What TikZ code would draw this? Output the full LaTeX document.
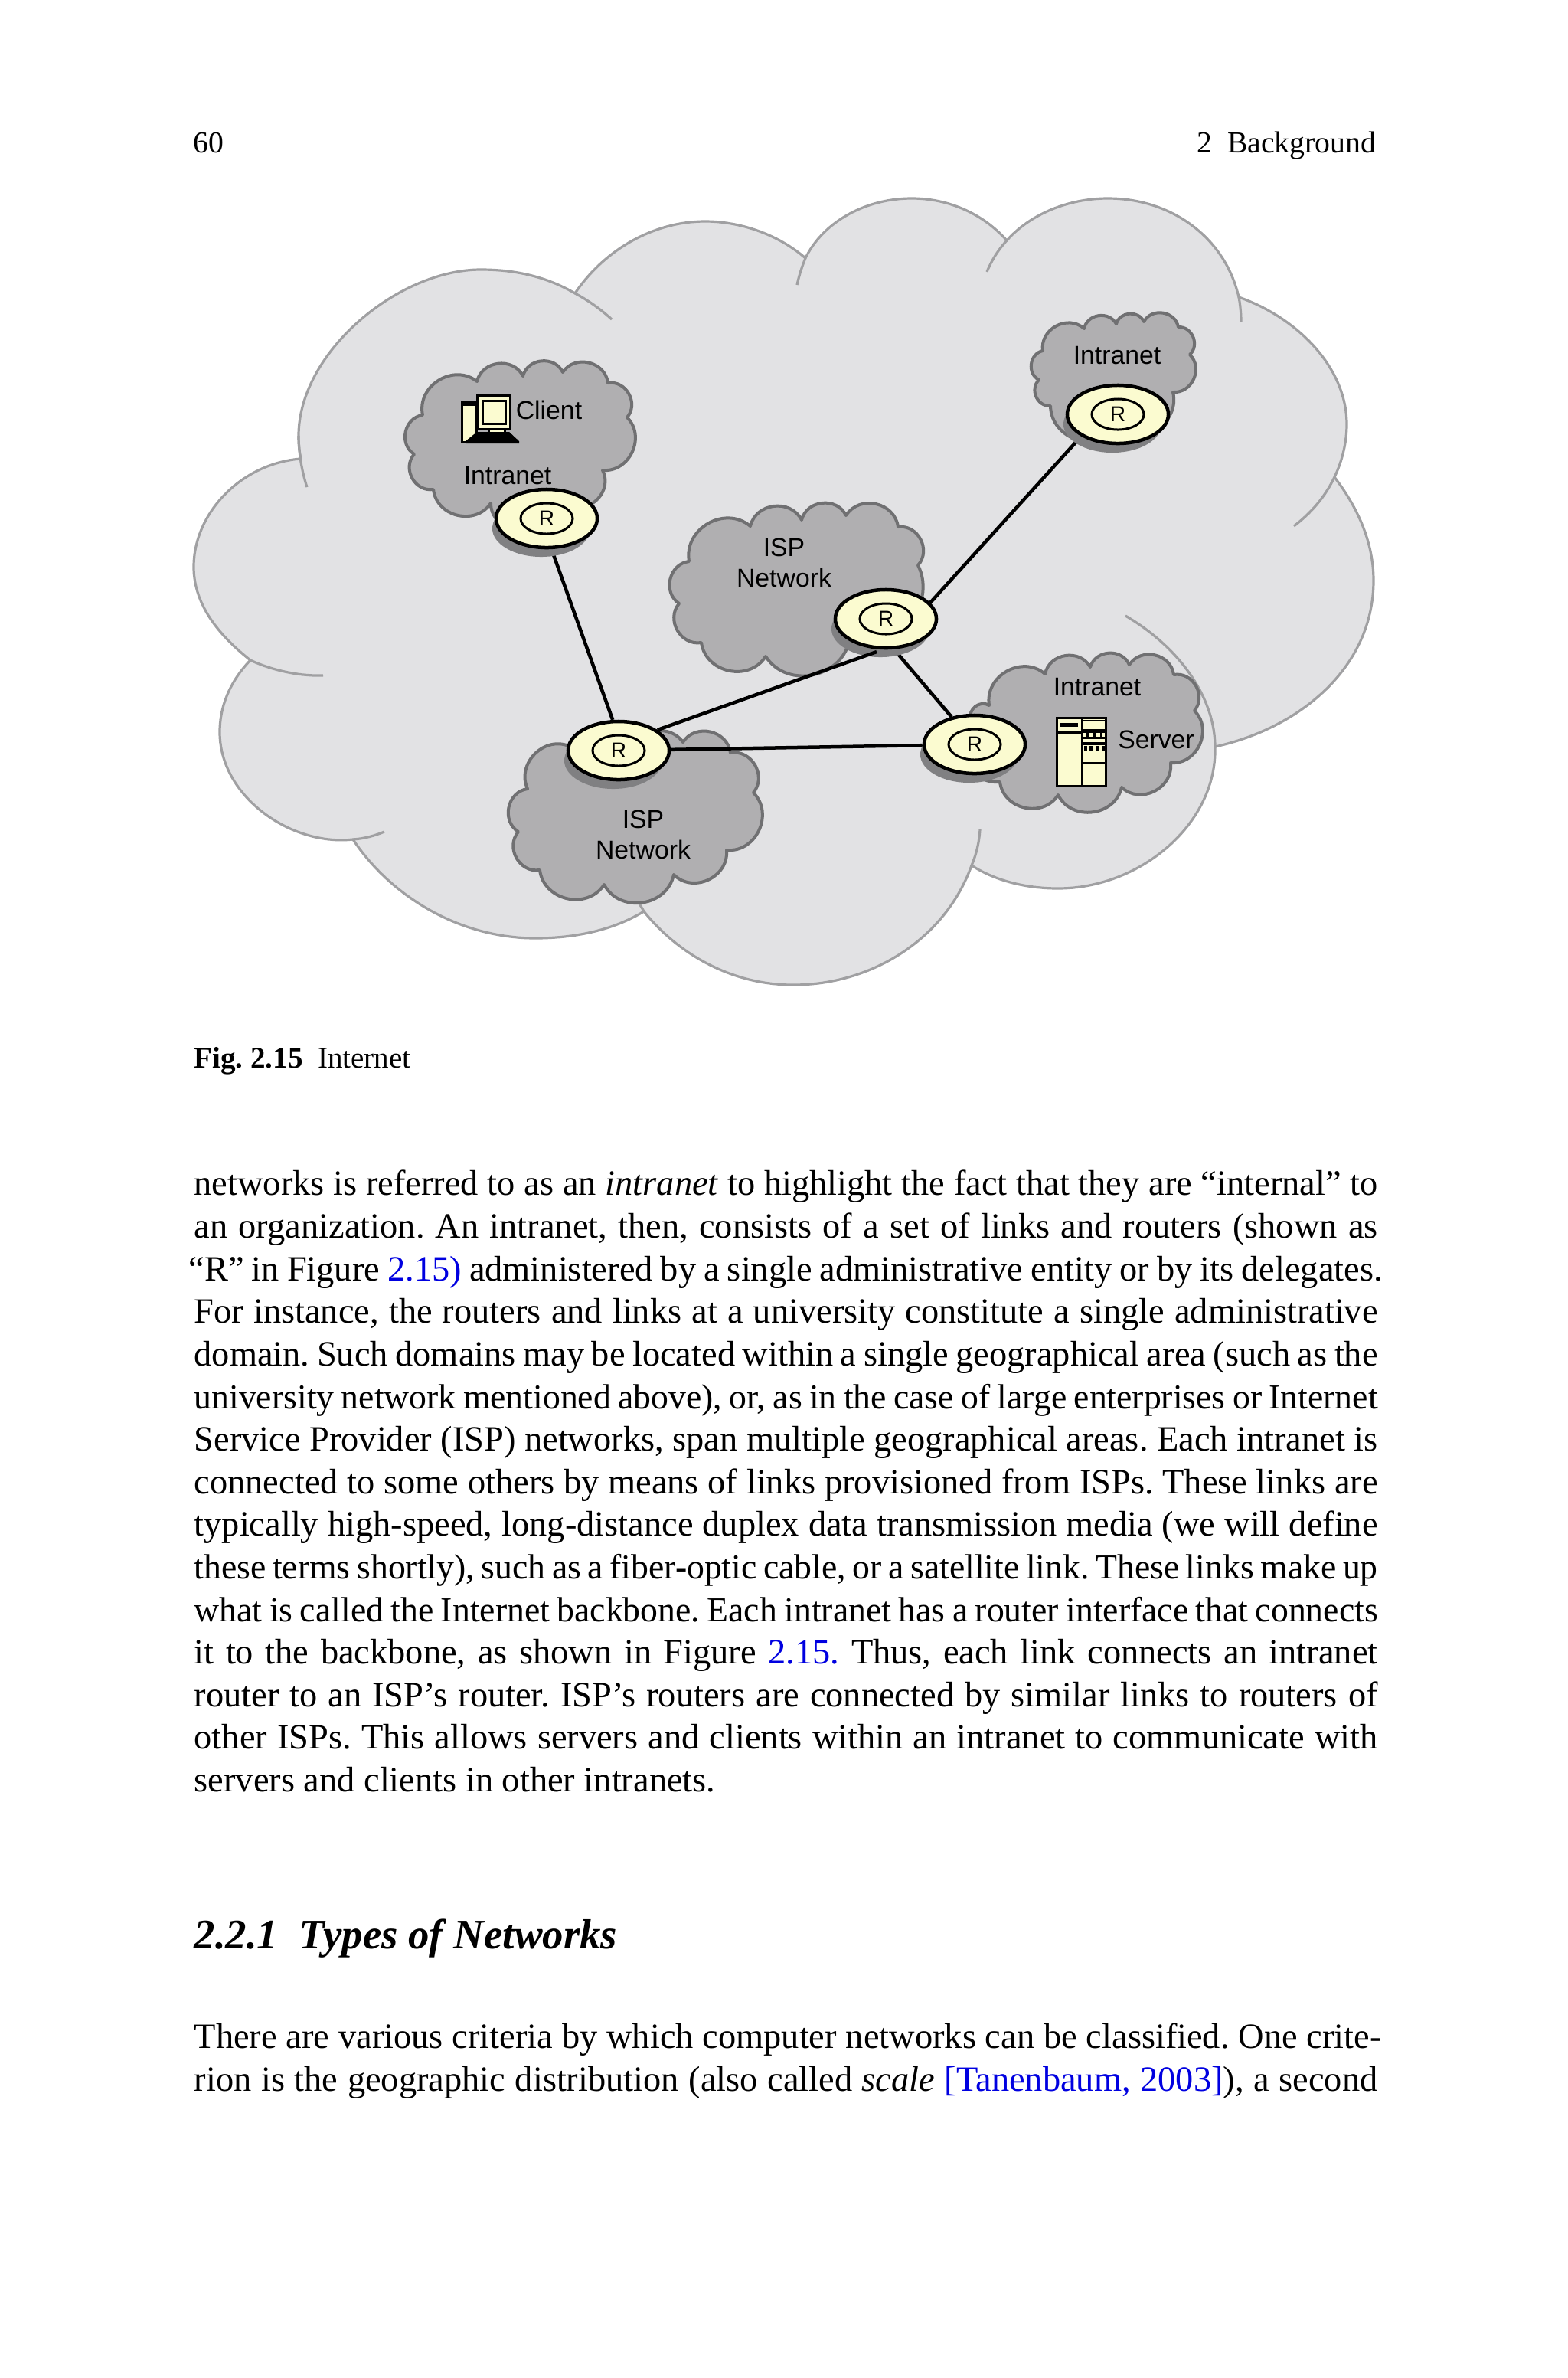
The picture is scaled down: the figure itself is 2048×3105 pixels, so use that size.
\documentclass[tikz,border=0pt]{standalone}
\usepackage{fontspec}
\setmainfont{Liberation Serif}
\newfontfamily\lblfont{Liberation Sans}
\usepackage{tikz}
\usetikzlibrary{
  positioning,
  shapes.geometric,
  backgrounds
}
\definecolor{outerfill}{HTML}{E2E2E4}
\definecolor{outerline}{HTML}{A0A0A2}
\definecolor{innerfill}{HTML}{B0AFB1}
\definecolor{innerline}{HTML}{707072}
\definecolor{cream}{HTML}{FBFBD0}
\definecolor{shadowgray}{HTML}{808082}
\definecolor{linkblue}{HTML}{0000E0}
\newcommand{\jl}[2][15.45cm]{\hbox to #1{\spaceskip=0.17em plus 0.3em\relax #2}}
\newcommand{\lk}[1]{\textcolor{linkblue}{#1}}
\frenchspacing

\begin{document}
\begin{tikzpicture}[
    x=0.01cm, y=-0.01cm,
    ln/.style={anchor=base west, inner sep=0pt, font=\fontsize{13.2pt}{16pt}\selectfont},
    lns/.style={ln, font=\fontsize{13pt}{16pt}\selectfont},
    lbl/.style={inner sep=0pt, align=center, font=\lblfont\fontsize{9.6pt}{11.3pt}\selectfont},
    ol/.style={draw=outerline, line width=0.032cm, line join=round},
    il/.style={draw=innerline, fill=innerfill, line width=0.04cm, line join=round},
    ed/.style={black, line width=0.045cm},
    rs/.style={ellipse, fill=shadowgray, inner sep=0pt, minimum width=1.28cm, minimum height=0.74cm},
    rt/.style={ellipse, draw, fill=cream, line width=0.045cm, inner sep=0pt, minimum width=1.32cm, minimum height=0.76cm},
    ri/.style={ellipse, draw, line width=0.03cm, inner sep=0pt, minimum width=0.68cm, minimum height=0.4cm, font=\lblfont\fontsize{8pt}{8pt}\selectfont},
    ic/.style={draw, fill=cream, line width=0.03cm},
    sc/.style={bend left=70, looseness=1.2}
  ]
    \useasboundingbox (0,0) rectangle (2048,3105);
    % ---- routers ----
    \foreach \n/\x/\y in {R1/714/677, R2/1460/541, R3/1157/808, R4/1273/972, R5/808/980} {
      \node[rs] (\n s) at (\x-7,\y+13) {};
      \node[rt] (\n) at (\x,\y) {};
      \node[ri] (\n i) at (\x,\y) {R};
    }
    \coordinate (R3f) at (1145,851);
    \begin{scope}[on background layer]
      % ---- big cloud ----
      \path[ol, fill=outerfill] (390,569)
        .. controls (390,460) and (520,352) .. (628,352)
        .. controls (675,352) and (715,362) .. (751,383)
        .. controls (790,325) and (855,289) .. (921,289)
        .. controls (965,289) and (1015,305) .. (1052,337)
        .. controls (1075,290) and (1130,259) .. (1191,259)
        .. controls (1240,259) and (1285,280) .. (1315,314)
        .. controls (1345,280) and (1395,259) .. (1447,259)
        .. controls (1530,259) and (1600,310) .. (1618,388)
        .. controls (1695,415) and (1759,480) .. (1759,554)
        .. controls (1759,578) and (1753,602) .. (1743,623)
        .. controls (1775,665) and (1794,710) .. (1794,758)
        .. controls (1794,870) and (1700,950) .. (1587,975)
        .. controls (1590,1075) and (1490,1160) .. (1382,1160)
        .. controls (1340,1160) and (1300,1150) .. (1269,1130)
        .. controls (1235,1225) and (1140,1286) .. (1036,1286)
        .. controls (955,1286) and (885,1245) .. (841,1190)
        .. controls (800,1215) and (750,1225) .. (699,1225)
        .. controls (600,1225) and (510,1170) .. (461,1096)
        .. controls (380,1105) and (287,1040) .. (287,956)
        .. controls (287,920) and (302,888) .. (327,862)
        .. controls (280,825) and (253,785) .. (253,740)
        .. controls (253,670) and (315,605) .. (393,599)
        .. controls (391,590) and (390,580) .. (390,569)
        -- cycle;
      % ---- lobe ends inside the cloud ----
      \draw[ol] (390,569) .. controls (390,590) and (394,615) .. (401,636);
      \draw[ol] (751,383) .. controls (768,392) and (785,404) .. (799,417);
      \draw[ol] (1041,372) .. controls (1044,358) and (1048,347) .. (1052,337);
      \draw[ol] (1289,355) .. controls (1295,340) and (1304,326) .. (1315,314);
      \draw[ol] (1618,388) .. controls (1620,398) and (1621,410) .. (1621,420);
      \draw[ol] (1743,623) .. controls (1730,650) and (1712,670) .. (1690,687);
      \draw[ol] (1470,804) .. controls (1545,848) and (1587,915) .. (1587,975);
      \draw[ol] (1280,1083) .. controls (1279,1100) and (1275,1116) .. (1269,1130);
      \draw[ol] (834,1178) -- (841,1190);
      \draw[ol] (461,1096) .. controls (476,1095) and (490,1091) .. (502,1086);
      \draw[ol] (327,862) .. controls (355,875) and (390,883) .. (422,882);
      % ---- small clouds ----
      \draw[il] (552,542) \foreach \x/\y in {623/498,683/491,735/486,794/500,819/545,787/614,745/660,700/680,641/657,566/639,541/593,552/542} { to[sc] (\x,\y) } -- cycle;
      \draw[il] (1362,458) \foreach \x/\y in {1416/429,1458/423,1494/420,1539/427,1554/463,1532/512,1460/560,1372/530,1357/496,1362/458} { to[sc] (\x,\y) } -- cycle;
      \draw[il] (900,733) \foreach \x/\y in {980/687,1047/679,1105/673,1173/688,1199/738,1110/832,1000/857,916/839,887/788,900/733} { to[sc] (\x,\y) } -- cycle;
      \draw[il] (1292,921) \foreach \x/\y in {1365/880,1424/871,1475/868,1533/881,1560/928,1529/996,1465/1028,1382/1038,1306/1021,1268/940,1292/921} { to[sc] (\x,\y) } -- cycle;
      \draw[il] (689,1030) \foreach \x/\y in {745/975,820/990,892/969,954/983,984/1035,949/1110,880/1142,789/1155,705/1136,677/1086,689/1030} { to[sc] (\x,\y) } -- cycle;
      % ---- links ----
      \draw[ed] (R1.-81) -- (R5.101);
      \draw[ed] (R2.211) -- (R3.20);
      \draw[ed] (R3.-75) -- (R4.130);
      \draw[ed] (R5) -- (R4);
    \end{scope}
    \draw[ed] (R5.28) -- (R3f);
    % ---- client icon ----
    \draw[ic] (603,524) rectangle (622,577);
    \fill[black] (603,524) rectangle (622,530);
    \fill[black] (623,564) -- (665,564) -- (678,576) -- (678,579) -- (608,579) -- (608,576) -- cycle;
    \draw[ic] (638,560) rectangle (659,565);
    \draw[ic] (623,516) rectangle (666,560);
    \draw[ic] (630,523) rectangle (660,553);
    % ---- server icon ----
    \draw[ic] (1380,937) rectangle (1444,1026);
    \draw[black, line width=0.03cm] (1413,937) -- (1413,1026);
    \draw[black, line width=0.03cm] (1380,956) -- (1413,956);
    \fill[black] (1385,944) rectangle (1408,949);
    \draw[black, line width=0.02cm] (1413,941) -- (1444,941);
    \fill[black] (1413,952) rectangle (1444,957);
    \foreach \x in {1419,1428,1437} \fill[black] (\x,957) rectangle +(3,6);
    \fill[black] (1413,962) rectangle (1444,965);
    \fill[black] (1413,969) rectangle (1444,973);
    \foreach \x in {1416,1423,1431,1439} \fill[black] (\x,974) rectangle +(4,6);
    \draw[black, line width=0.02cm] (1413,996) -- (1444,996);
    % ---- labels ----
    \node[lbl] (lc) at (717,535) {Client};
    \node[lbl] (li1) at (663,621) {Intranet};
    \node[lbl] (li2) at (1459,464) {Intranet};
    \node[lbl] (li3) at (1433,897) {Intranet};
    \node[lbl] (ls) at (1510,966) {Server};
    \node[lbl] (lp1) at (1024,735) {ISP\\Network};
    \node[lbl] (lp2) at (840,1090) {ISP\\Network};
    % ---- page text ----
    \node[ln, font=\fontsize{11.3pt}{14pt}\selectfont] (pg) at (252,199) {60};
    \node[ln, font=\fontsize{11.3pt}{14pt}\selectfont, anchor=base east] (hd) at (1798,199) {2\enspace Background};
    \node[ln, font=\fontsize{11.1pt}{14pt}\selectfont] (cap) at (253,1394) {\textbf{Fig. 2.15}\enspace Internet};
    \node[ln] (t1) at (253,1560) {\jl{networks is referred to as an \emph{intranet} to highlight the fact that they are “internal” to}};
    \node[ln] (t2) at (253,1616) {\jl{an organization. An intranet, then, consists of a set of links and routers (shown as}};
    \node[ln] (t3) at (246,1672) {\jl[15.58cm]{“R” in Figure \lk{2.15)} administered by a single administrative entity or by its delegates.}};
    \node[ln] (t4) at (253,1727) {\jl{For instance, the routers and links at a university constitute a single administrative}};
    \node[ln] (t5) at (253,1783) {\jl{domain. Such domains may be located within a single geographical area (such as the}};
    \node[lns] (t6) at (253,1839) {\jl{university network mentioned above), or, as in the case of large enterprises or Internet}};
    \node[ln] (t7) at (253,1894) {\jl{Service Provider (ISP) networks, span multiple geographical areas. Each intranet is}};
    \node[ln] (t8) at (253,1950) {\jl{connected to some others by means of links provisioned from ISPs. These links are}};
    \node[ln] (t9) at (253,2005) {\jl{typically high-speed, long-distance duplex data transmission media (we will define}};
    \node[lns] (t10) at (253,2061) {\jl{these terms shortly), such as a fiber-optic cable, or a satellite link. These links make up}};
    \node[lns] (t11) at (253,2117) {\jl{what is called the Internet backbone. Each intranet has a router interface that connects}};
    \node[ln] (t12) at (253,2172) {\jl{it to the backbone, as shown in Figure \lk{2.15.} Thus, each link connects an intranet}};
    \node[ln] (t13) at (253,2228) {\jl{router to an ISP’s router. ISP’s routers are connected by similar links to routers of}};
    \node[ln] (t14) at (253,2283) {\jl{other ISPs. This allows servers and clients within an intranet to communicate with}};
    \node[ln] (t15) at (253,2339) {servers and clients in other intranets.};
    \node[ln, font=\fontsize{15.6pt}{18pt}\selectfont\bfseries\itshape] (hs) at (253,2544) {2.2.1\enspace Types of Networks};
    \node[ln] (t16) at (253,2674) {\jl[15.5cm]{There are various criteria by which computer networks can be classified. One crite-}};
    \node[ln] (t17) at (253,2730) {\jl{rion is the geographic distribution (also called \emph{scale} \lk{[Tanenbaum, 2003]}), a second}};
  \end{tikzpicture}
\end{document}
